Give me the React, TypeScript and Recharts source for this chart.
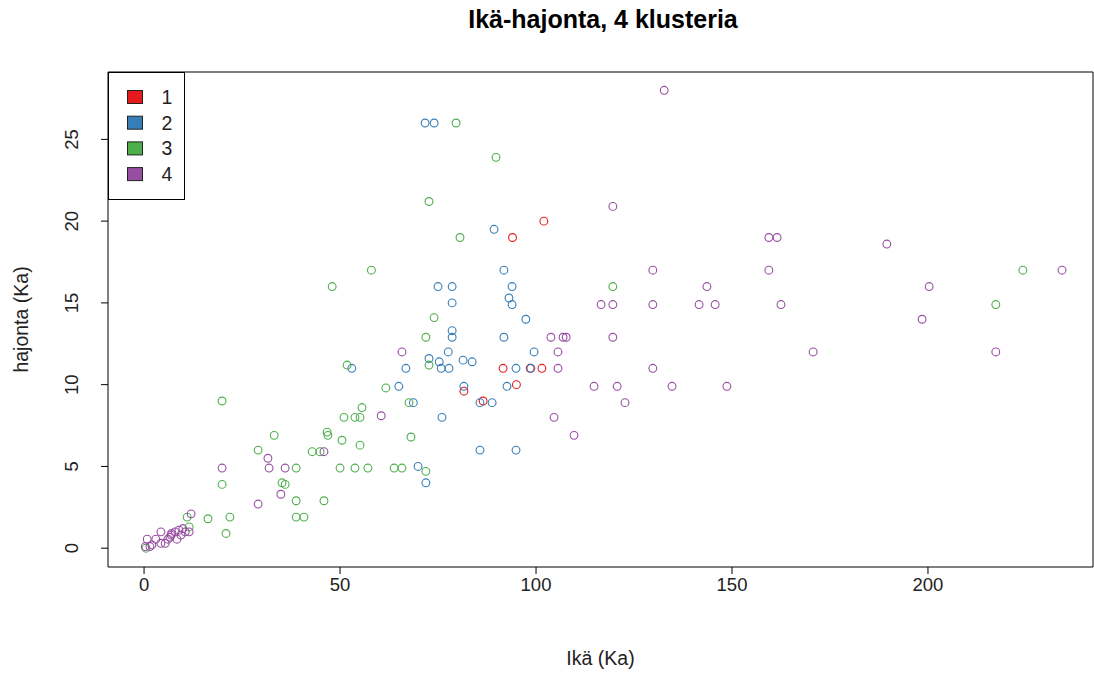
import React from 'react';
import { ScatterChart, Scatter, XAxis, YAxis, ReferenceArea, Legend, Label } from 'recharts';

// Cluster 1 (red)
const c1Age = [102, 94, 91.6, 98.5, 101.5, 95, 86.5, 81.6];
const c1Spread = [20, 19, 11, 11, 11, 10, 9, 9.6];

// Cluster 2 (blue)
const c2Age = [71.7, 74, 89.3, 91.8, 75, 78.6, 93.9, 78.6, 93.1, 93.9, 97.4, 78.6, 78.6, 91.8, 77.6, 72.7, 75.3, 81.4, 83.7, 99.5, 66.8, 75.8, 77.8, 94.9, 98.7, 65, 81.6, 92.6, 68.7, 85.7, 88.8, 76, 85.7, 94.9, 69.9, 71.9, 53];
const c2Spread = [26, 26, 19.5, 17, 16, 16, 16, 15, 15.3, 14.9, 14, 13.3, 12.9, 12.9, 12, 11.6, 11.4, 11.5, 11.4, 12, 11, 11, 11, 11, 11, 9.9, 9.9, 9.9, 8.9, 8.9, 8.9, 8, 6, 6, 5, 4, 11];

// Cluster 3 (green)
const c3Age = [0.5, 11, 11.5, 16.3, 21.9, 20.9, 38.8, 40.8, 38.8, 45.9, 19.9, 35.2, 36, 19.9, 38.8, 50, 53.8, 57.1, 63.8, 65.8, 29.1, 42.9, 44.9, 55.1, 50.5, 46.7, 46.9, 33.2, 51, 53.8, 55.1, 55.6, 61.7, 67.6, 68.1, 71.9, 51.8, 72.7, 71.9, 74, 48, 58, 80.6, 72.7, 89.8, 79.6, 119.6, 217.3, 224.2];
const c3Spread = [0, 1.9, 1.3, 1.8, 1.9, 0.9, 1.9, 1.9, 2.9, 2.9, 3.9, 4.0, 3.9, 9, 4.9, 4.9, 4.9, 4.9, 4.9, 4.9, 6, 5.9, 5.9, 6.3, 6.6, 7.1, 6.9, 6.9, 8, 8, 8, 8.6, 9.8, 8.9, 6.8, 4.7, 11.2, 11.2, 12.9, 14.1, 16, 17, 19, 21.2, 23.9, 26, 16, 14.9, 17];

// Cluster 4 (purple)
const c4Age = [0.3, 1.5, 0.8, 3, 4.3, 4.3, 5.4, 6.1, 6.6, 6.9, 7.9, 8.4, 8.9, 9.4, 10.5, 11.5, 12, 2, 7, 9.9, 19.9, 29.1, 31.6, 31.9, 34.9, 36, 45.9, 60.5, 65.8, 103.8, 106.9, 107.7, 119.6, 105.6, 105.6, 129.8, 114.8, 120.7, 134.7, 148.7, 122.7, 104.6, 109.7, 116.6, 119.6, 129.8, 141.6, 145.7, 132.7, 119.6, 129.8, 143.6, 159.4, 161.5, 189.5, 159.4, 234.2, 200.3, 162.5, 198.5, 170.7, 217.3];
const c4Spread = [0.1, 0.1, 0.55, 0.55, 1.0, 0.3, 0.3, 0.55, 0.67, 0.8, 1.0, 0.55, 1.1, 0.8, 1.0, 1.0, 2.1, 0.2, 0.9, 1.2, 4.9, 2.7, 5.5, 4.9, 3.3, 4.9, 5.9, 8.1, 12, 12.9, 12.9, 12.9, 12.9, 12, 11, 11, 9.9, 9.9, 9.9, 9.9, 8.9, 8, 6.9, 14.9, 14.9, 14.9, 14.9, 14.9, 28, 20.9, 17, 16, 19, 19, 18.6, 17, 17, 16, 14.9, 14, 12, 12];

const clusterNames = ['1', '2', '3', '4'];
const clusterColors = ['#E41A1C', '#377EB8', '#4DAF4A', '#984EA3'];
const xTicks = [0, 50, 100, 150, 200];
const yTicks = [0, 5, 10, 15, 20, 25];
const xDomain = [-9.2, 242.1];
const yDomain = [-1.15, 29.12];

const zip = (xs: number[], ys: number[]) => xs.map((x, i) => ({ x, y: ys[i] }));
const clusters = [
  zip(c1Age, c1Spread),
  zip(c2Age, c2Spread),
  zip(c3Age, c3Spread),
  zip(c4Age, c4Spread),
];

const FONT = '"Liberation Sans", Arial, sans-serif';

const makeShape = (color: string) => (props: any) => (
  <circle cx={props.cx} cy={props.cy} r={3.9} fill="none" stroke={color} strokeWidth={1.1} />
);

const XTick = (props: any) => (
  <text x={props.x} y={props.y + 15} textAnchor="middle" fontSize={18.5} fontFamily={FONT} fill="#222">
    {props.payload.value}
  </text>
);

const YTick = (props: any) => {
  const x = props.x - 21;
  const y = props.y;
  return (
    <text x={x} y={y} textAnchor="middle" fontSize={18.5} fontFamily={FONT} fill="#222" transform={`rotate(-90, ${x}, ${y})`}>
      {props.payload.value}
    </text>
  );
};

const XTitle = (props: any) => {
  const vb = props.viewBox;
  return (
    <text x={vb.x + vb.width / 2} y={vb.y + 98} textAnchor="middle" fontSize={19.5} fontFamily={FONT} fill="#222">
      Ikä (Ka)
    </text>
  );
};

const YTitle = (props: any) => {
  const vb = props.viewBox;
  const x = vb.x - 20;
  const y = vb.y + vb.height / 2;
  return (
    <text x={x} y={y} textAnchor="middle" fontSize={19.5} fontFamily={FONT} fill="#222" transform={`rotate(-90, ${x}, ${y})`}>
      hajonta (Ka)
    </text>
  );
};

const LegendBox = (props: any) => {
  const items = props.payload || [];
  return (
    <svg width={77} height={128} style={{ display: 'block' }}>
      <rect x={0.5} y={0.5} width={76} height={127} fill="white" stroke="#000" />
      {items.map((it: any, i: number) => {
        const cy = 25 + i * 25.7;
        return (
          <g key={i}>
            <rect x={19.5} y={cy - 6.5} width={15} height={13} fill={it.color} stroke="#222" />
            <text x={59} y={cy + 7} textAnchor="middle" fontSize={19.5} fontFamily={FONT} fill="#222">
              {it.value}
            </text>
          </g>
        );
      })}
    </svg>
  );
};

export default function App() {
  return (
    <div style={{ position: 'absolute', left: 0, top: 0, width: 1094, height: 675, background: '#fff' }}>
      <div
        style={{
          position: 'absolute',
          left: 108,
          width: 990,
          top: 7,
          textAlign: 'center',
          fontFamily: FONT,
          fontWeight: 'bold',
          fontSize: 25,
          lineHeight: '25px',
          color: '#000',
          zIndex: 2,
        }}
      >
        Ikä-hajonta, 4 klusteria
      </div>
      <ScatterChart width={1094} height={675} margin={{ top: 72, right: 1, bottom: 58, left: 48 }}>
        <XAxis
          type="number"
          dataKey="x"
          domain={xDomain}
          ticks={xTicks}
          allowDataOverflow
          axisLine={false}
          tickSize={7}
          tickLine={{ stroke: '#000' }}
          tick={<XTick />}
          height={50}
          interval={0}
        >
          <Label content={<XTitle />} />
        </XAxis>
        <YAxis
          type="number"
          dataKey="y"
          domain={yDomain}
          ticks={yTicks}
          allowDataOverflow
          axisLine={false}
          tickSize={7}
          tickLine={{ stroke: '#000' }}
          tick={<YTick />}
          width={60}
          interval={0}
        >
          <Label content={<YTitle />} />
        </YAxis>
        <ReferenceArea x1={xDomain[0]} x2={xDomain[1]} y1={yDomain[0]} y2={yDomain[1]} fill="none" stroke="#000" strokeWidth={1} />
        {clusters.map((data, i) => (
          <Scatter
            key={i}
            name={clusterNames[i]}
            data={data}
            fill={clusterColors[i]}
            shape={makeShape(clusterColors[i])}
            isAnimationActive={false}
          />
        ))}
        <Legend
          layout="horizontal"
          align="center"
          verticalAlign="middle"
          content={<LegendBox />}
          wrapperStyle={{ position: 'absolute', left: 108, top: 72, width: 77, height: 128 }}
        />
      </ScatterChart>
    </div>
  );
}
